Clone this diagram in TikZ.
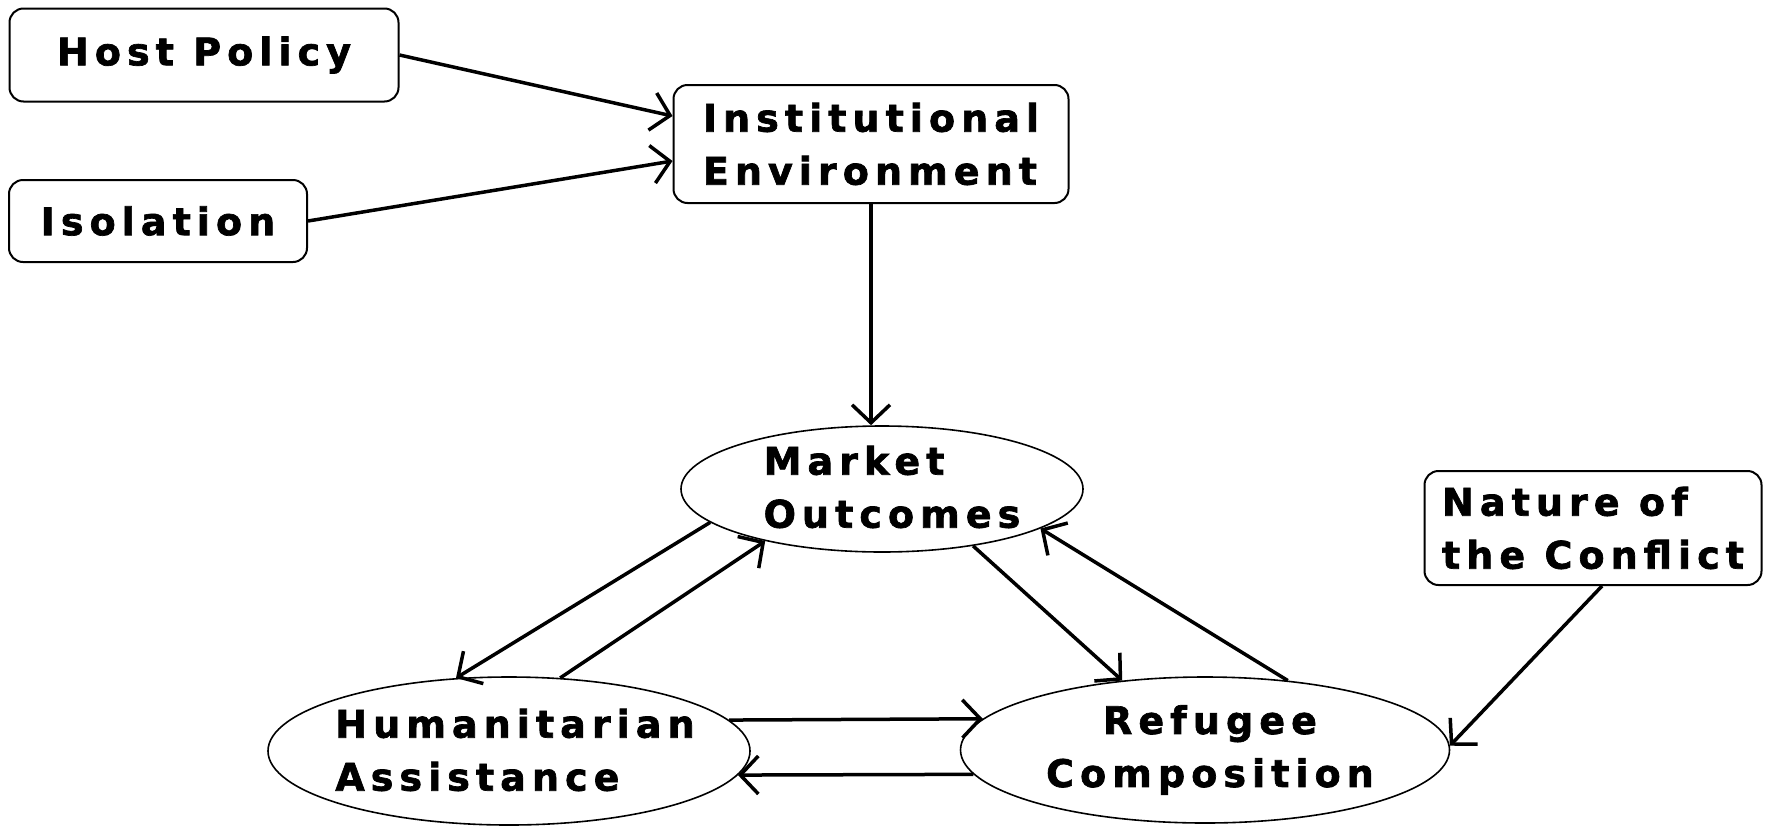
\documentclass[tikz,border=0pt]{standalone}
\usepackage{fontspec}
\newfontfamily\lbl{DejaVu Sans}[LetterSpace=16, BoldFeatures={FakeBold=1.8}]
\usetikzlibrary{arrows.meta,shapes.geometric,calc}
\begin{document}
\begin{tikzpicture}[x=1pt,y=-1pt,
  txt/.style={inner sep=0pt, font=\fontsize{38}{53}\lbl\bfseries},
  box/.style={txt, draw, line width=2pt, rounded corners=14pt, align=left},
  oval/.style={draw, ellipse, line width=1.6pt, inner sep=0pt},
  link/.style={line width=3.5pt, -{Straight Barb[length=18pt,width=38pt]}}]
\useasboundingbox (0,0) rectangle (1769,825);

% boxes
\node[box, minimum width=389pt, minimum height=93pt] (hp) at (204,55) {Host Policy};
\node[box, minimum width=298pt, minimum height=82pt] (iso) at (158,221) {Isolation};
\node[box, minimum width=395pt, minimum height=118pt] (ie) at (871,144) {Institutional\\Environment};
\node[box, minimum width=337pt, minimum height=114pt] (nc) at (1593,528) {Nature of\\the Conflict};

% ovals and their labels
\node[oval, minimum width=402pt, minimum height=126pt] (mo) at (882,489) {};
\node[txt, align=left] (moT) at (892,487) {Market\\Outcomes};
\node[oval, minimum width=482pt, minimum height=148pt] (ha) at (509,751) {};
\node[txt, align=left] (haT) at (515,750) {Humanitarian\\Assistance};
\node[oval, minimum width=489pt, minimum height=146pt] (rc) at (1205,750) {};
\node[txt, align=center] (rcT) at (1210,750) {Refugee\\Composition};

% connectors
\draw[link] (hp.east) -- ($(ie.west)+(0,-28)$);
\draw[link] (iso.east) -- ($(ie.west)+(0,17)$);
\draw[link] (ie.south) -- (ie.south |- mo.north);
\draw[link] (mo.191) -- (ha.126);
\draw[link] (ha.55) -- (mo.204);
\draw[link] (mo.328) -- (rc.140);
\draw[link] (rc.40) -- (mo.346);
\draw[link] (ha.8) -- (rc.172);
\draw[link] (rc.186) -- (ha.354);
\draw[link] ($(nc.south)+(9,0)$) -- (rc.1);
\end{tikzpicture}
\end{document}
